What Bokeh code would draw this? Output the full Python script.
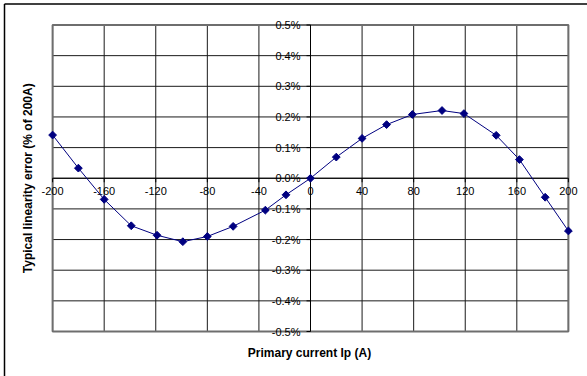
import numpy as np
from bokeh.plotting import figure
from bokeh.models import Range1d
from bokeh.core.properties import value
from bokeh.embed import file_html
from bokeh.resources import INLINE

# Primary current (A) and typical linearity error (% of 200 A)
current_a = [-200, -180, -160, -139, -119, -99, -80, -60, -35, -19,
             0, 20, 40, 59, 79, 102, 119, 144, 162, 182, 200]
error_pct = [0.141, 0.033, -0.069, -0.155, -0.186, -0.207, -0.190, -0.157, -0.104, -0.054,
             0.0, 0.069, 0.130, 0.175, 0.208, 0.221, 0.211, 0.140, 0.061, -0.062, -0.172]

x_tick_values = [-200, -160, -120, -80, -40, 0, 40, 80, 120, 160, 200]
x_tick_labels = ["-200", "-160", "-120", "-80", "-40", "0", "40", "80", "120", "160", "200"]
y_tick_values = [0.5, 0.4, 0.3, 0.2, 0.1, 0.0, -0.1, -0.2, -0.3, -0.4, -0.5]
y_tick_labels = ["0.5%", "0.4%", "0.3%", "0.2%", "0.1%", "0.0%",
                 "-0.1%", "-0.2%", "-0.3%", "-0.4%", "-0.5%"]

x_title = "Primary current Ip (A)"
y_title = "Typical linearity error (% of 200A)"

W, H = 587, 376
# where the plotting area sits on the canvas
X0_PX, X_SCALE = 310.0, 1.2895    # px of zero current, px per ampere
Y0_PX, Y_SCALE = 177.75, 306.5    # px (from top) of zero error, px per percent


def px_to_x(px):
    return (px - X0_PX) / X_SCALE


def py_to_y(py):
    return (Y0_PX - py) / Y_SCALE


p = figure(width=W, height=H, output_backend="svg", toolbar_location=None,
           x_range=Range1d(px_to_x(0), px_to_x(W)),
           y_range=Range1d(py_to_y(H), py_to_y(0)),
           min_border=0, min_border_left=0, min_border_right=0,
           min_border_top=0, min_border_bottom=0)
p.axis.visible = False
p.grid.visible = False
p.outline_line_color = None
p.background_fill_color = "white"
p.border_fill_color = "white"

FONT = value("Liberation Sans")
xmin, xmax = min(x_tick_values), max(x_tick_values)
ymin, ymax = min(y_tick_values), max(y_tick_values)

# outer chart border (left and top edges)
bx = px_to_x(4)
by = py_to_y(3.5)
p.segment(x0=[bx, bx], y0=[py_to_y(H), by], x1=[bx, px_to_x(W)], y1=[by, by],
          line_color="black", line_width=1.5)

# gridlines
p.segment(x0=x_tick_values, y0=ymin, x1=x_tick_values, y1=ymax,
          line_color="#1a1a1a", line_width=1)
p.segment(x0=xmin, y0=y_tick_values, x1=xmax, y1=y_tick_values,
          line_color="#1a1a1a", line_width=1)

# plot area frame
p.quad(left=xmin, right=xmax, bottom=ymin, top=ymax,
       fill_color=None, line_color="#6e6e6e", line_width=2)

# axes crossing at the origin
p.segment(x0=[xmin, 0], y0=[0, ymin], x1=[xmax, 0], y1=[0, ymax],
          line_color="black", line_width=1)
p.ray(x=0, y=y_tick_values, length=4, length_units="screen", angle=np.pi,
      line_color="black", line_width=1)
p.ray(x=x_tick_values, y=0, length=4, length_units="screen", angle=-np.pi / 2,
      line_color="black", line_width=1)

# tick labels
p.text(x=0, y=y_tick_values, text=y_tick_labels, x_offset=-10,
       text_align="right", text_baseline="middle",
       text_font=FONT, text_font_size="11px", text_color="black")
p.text(x=x_tick_values, y=0, text=x_tick_labels, y_offset=9,
       text_align="center", text_baseline="top",
       text_font=FONT, text_font_size="11px", text_color="black")

# axis titles
p.text(x=px_to_x(309), y=py_to_y(352), text=[x_title],
       text_align="center", text_baseline="middle",
       text_font=FONT, text_font_size="12px", text_font_style="bold",
       text_color="black")
p.text(x=px_to_x(27), y=0, text=[y_title], angle=np.pi / 2,
       text_align="center", text_baseline="middle",
       text_font=FONT, text_font_size="12px", text_font_style="bold",
       text_color="black")

# data series
p.line(current_a, error_pct, line_color="#000080", line_width=1)
p.scatter(current_a, error_pct, marker="square", angle=np.pi / 4, size=5.5,
          fill_color="#000080", line_color="#000080")

open("out.html", "w").write(file_html(p, INLINE))
